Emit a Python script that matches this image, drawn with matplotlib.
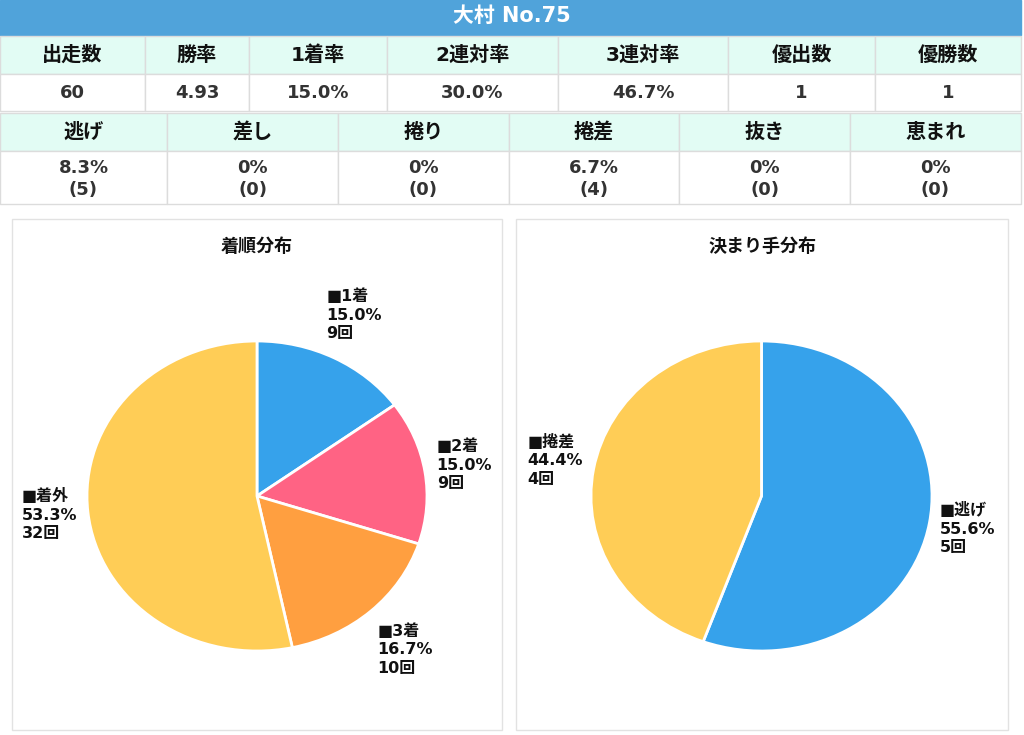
import matplotlib
matplotlib.use("Agg")
import matplotlib.pyplot as plt
from matplotlib.patches import Rectangle


OUTPUT_FILE = "out.png"
FIG_W, FIG_H = 1024, 735

TITLE = "大村 No.75"

STAT_LABELS = ["出走数", "勝率", "1着率", "2連対率", "3連対率", "優出数", "優勝数"]
STAT_VALUES = ["60", "4.93", "15.0%", "30.0%", "46.7%", "1", "1"]

KIMARITE_LABELS = ["逃げ", "差し", "捲り", "捲差", "抜き", "恵まれ"]
KIMARITE_COUNTS = [5, 0, 0, 4, 0, 0]
TOTAL_RACES = 60

FINISH_LABELS = ["1着", "2着", "3着", "着外"]
FINISH_COUNTS = [9, 9, 10, 32]

# Layout (pixels, top-left origin)
ROW1_EDGES = [0, 145, 249, 387, 558, 728, 875, 1021]
ROW2_EDGES = [0, 167, 338, 509, 679, 850, 1021]

BLUE = "#36a2eb"
PINK = "#ff6384"
ORANGE = "#ff9f40"
YELLOW = "#ffcd56"
FINISH_COLOURS = [BLUE, PINK, ORANGE, YELLOW]
KIMARITE_COLOURS = [BLUE, YELLOW]

TITLE_BG = "#50a3da"
HEAD_BG = "#e2fcf4"
GRID = "#dcdcdc"
FONT = ["DejaVu Sans", "Noto Sans CJK JP"]

plt.rcParams["font.family"] = FONT


def fx(x):
    return x / FIG_W


def fy(y):
    return 1 - y / FIG_H


def cell(fig, x0, y0, x1, y1, face, edge=GRID, lw=1.0):
    fig.add_artist(Rectangle((fx(x0), fy(y1)), (x1 - x0) / FIG_W, (y1 - y0) / FIG_H,
                             transform=fig.transFigure, facecolor=face,
                             edgecolor=edge, linewidth=lw, zorder=-1))


def put_text(fig, x, y, text, **kwargs):
    fig.text(fx(x), fy(y), text, ha="center", va="center", **kwargs)


def draw_table(fig):
    cell(fig, 0, 0, 1021, 35, TITLE_BG, edge=TITLE_BG)
    put_text(fig, 512, 16, TITLE, color="white", fontsize=15, fontweight="bold")

    for i, (label, value) in enumerate(zip(STAT_LABELS, STAT_VALUES)):
        x0, x1 = ROW1_EDGES[i], ROW1_EDGES[i + 1]
        cell(fig, x0, 36, x1, 74, HEAD_BG)
        cell(fig, x0, 74, x1, 111, "white")
        put_text(fig, (x0 + x1) / 2, 55, label, fontsize=14.5, fontweight="bold", color="#111111")
        put_text(fig, (x0 + x1) / 2, 93, value, fontsize=13, fontweight="bold", color="#333333")

    for i, (label, count) in enumerate(zip(KIMARITE_LABELS, KIMARITE_COUNTS)):
        x0, x1 = ROW2_EDGES[i], ROW2_EDGES[i + 1]
        rate = count / TOTAL_RACES * 100
        rate_text = f"{rate:.1f}%" if count else "0%"
        cell(fig, x0, 113, x1, 151, HEAD_BG)
        cell(fig, x0, 151, x1, 204, "white")
        put_text(fig, (x0 + x1) / 2, 132, label, fontsize=14.5, fontweight="bold", color="#111111")
        put_text(fig, (x0 + x1) / 2, 179, f"{rate_text}\n({count})", fontsize=13,
                 fontweight="bold", color="#333333", linespacing=1.35)


def draw_pie(fig, box, pie_box, title, labels, counts, colours, label_xy):
    x0, y0, x1, y1 = box
    cell(fig, x0, y0, x1, y1, "white", edge="#e2e2e2")
    put_text(fig, (x0 + x1) / 2, 247, title, fontsize=13, fontweight="bold", color="#111111")

    px0, py0, px1, py1 = pie_box
    axis = fig.add_axes([fx(px0), fy(py1), (px1 - px0) / FIG_W, (py1 - py0) / FIG_H])
    axis.pie(counts, colors=colours, startangle=90, counterclock=False,
             wedgeprops={"edgecolor": "white", "linewidth": 2})
    axis.set_aspect("auto")
    axis.set_xlim(-1.0, 1.0)
    axis.set_ylim(-1.0, 1.0)

    total = sum(counts)
    for label, count, (lx, ly) in zip(labels, counts, label_xy):
        text = f"■{label}\n{count / total * 100:.1f}%\n{count}回"
        axis.text(lx, ly, text, ha="center", va="center", multialignment="left",
                  fontsize=11.5, fontweight="bold", color="#111111", linespacing=1.3,
                  clip_on=False)


def main():
    fig = plt.figure(figsize=(FIG_W / 100, FIG_H / 100), dpi=100)
    fig.patch.set_facecolor("white")

    draw_table(fig)

    draw_pie(fig, (12, 219, 502, 730), (87, 341, 427, 651), "着順分布",
             FINISH_LABELS, FINISH_COUNTS, FINISH_COLOURS,
             [(0.57, 1.17), (1.22, 0.20), (0.87, -0.99), (-1.22, -0.12)])

    used = [(l, c) for l, c in zip(KIMARITE_LABELS, KIMARITE_COUNTS) if c > 0]
    draw_pie(fig, (516, 219, 1008, 730), (591, 341, 932, 651), "決まり手分布",
             [u[0] for u in used], [u[1] for u in used], KIMARITE_COLOURS,
             [(1.21, -0.21), (-1.21, 0.23)])

    fig.savefig(OUTPUT_FILE, dpi=100)
    plt.close(fig)


if __name__ == "__main__":
    main()
